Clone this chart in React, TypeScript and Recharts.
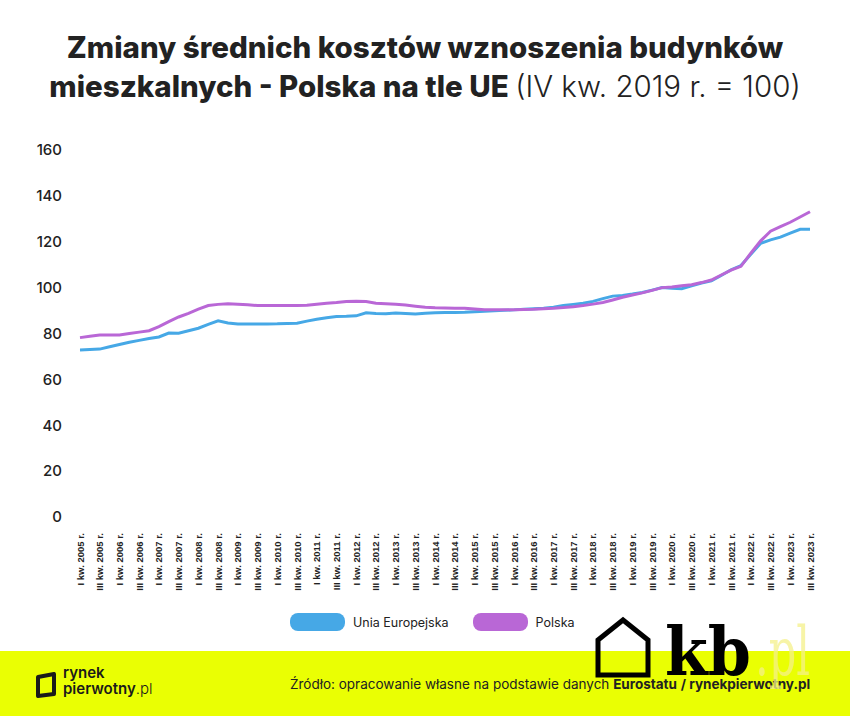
import { LineChart, Line, XAxis, YAxis } from "recharts";

const YEARS = [2005, 2006, 2007, 2008, 2009, 2010, 2011, 2012, 2013, 2014, 2015, 2016, 2017, 2018, 2019, 2020, 2021, 2022, 2023];
const QUARTERS = ["I", "II", "III", "IV"];

// index values, IV kw. 2019 r. = 100, from I kw. 2005 r. to III kw. 2023 r.
const EU = [
  72.8, 73.0, 73.2, 74.2, 75.2, 76.2, 77.0, 77.8, 78.5, 80.2,
  80.1, 81.2, 82.3, 84.0, 85.5, 84.6, 84.1, 84.1, 84.1, 84.1,
  84.2, 84.4, 84.5, 85.4, 86.2, 86.9, 87.4, 87.5, 87.7, 89.0,
  88.7, 88.6, 88.9, 88.7, 88.5, 88.8, 89.0, 89.2, 89.2, 89.3,
  89.5, 89.7, 89.9, 90.1, 90.3, 90.6, 90.8, 91.0, 91.5, 92.2,
  92.7, 93.2, 94.0, 95.2, 96.3, 96.6, 97.2, 97.9, 98.9, 100.0,
  99.7, 99.5, 100.8, 102.0, 103.0, 105.3, 107.8, 109.6, 114.5, 119.3,
  120.8, 122.0, 123.8, 125.4, 125.4,
];
const PL = [
  78.2, 78.8, 79.3, 79.4, 79.4, 80.0, 80.6, 81.2, 83.0, 85.2,
  87.2, 88.8, 90.6, 92.2, 92.7, 93.0, 92.8, 92.5, 92.2, 92.2,
  92.2, 92.2, 92.2, 92.3, 92.8, 93.2, 93.5, 94.0, 94.1, 93.9,
  93.2, 93.0, 92.7, 92.4, 91.9, 91.4, 91.2, 91.1, 91.0, 91.0,
  90.7, 90.4, 90.3, 90.3, 90.4, 90.5, 90.6, 90.8, 91.0, 91.3,
  91.7, 92.2, 92.8, 93.5, 94.6, 95.8, 96.8, 97.7, 98.8, 100.0,
  100.3, 100.8, 101.3, 102.2, 103.3, 105.5, 107.6, 109.3, 115.0, 120.4,
  124.6, 126.6, 128.5, 130.8, 133.1,
];
const Y_TICKS = [0, 20, 40, 60, 80, 100, 120, 140, 160];

const SERIES = [
  { key: "eu", name: "Unia Europejska", color: "#46a8e6" },
  { key: "pl", name: "Polska", color: "#b967d6" },
];

const LABELS = YEARS.flatMap((y) => QUARTERS.map((q) => `${q} kw. ${y} r.`)).slice(0, EU.length);
const data = LABELS.map((label, i) => ({ label, eu: EU[i], pl: PL[i] }));

const SANS = "Inter, 'Noto Sans', sans-serif";

function QuarterTick({ x, y, payload }: any) {
  return (
    <g transform={`translate(${x},${y})`}>
      <text
        transform="rotate(-90)"
        x={-10}
        dy={3.5}
        textAnchor="end"
        fontSize={9.5}
        fontWeight={700}
        fontFamily="'Liberation Sans', Arial, sans-serif"
        fill="#222"
      >
        {payload.value}
      </text>
    </g>
  );
}

export default function App() {
  return (
    <div style={{ position: "absolute", left: 0, top: 0, width: 850, height: 716, background: "#fff", overflow: "hidden", fontFamily: SANS }}>
      {/* Title */}
      <div style={{ position: "absolute", top: 28, left: 0, width: 850, textAlign: "center", fontSize: 29.5, lineHeight: "39px", color: "#222", fontWeight: 800 }}>
        Zmiany średnich kosztów wznoszenia budynków
        <br />
        mieszkalnych - Polska na tle UE <span style={{ fontWeight: 300 }}>(IV kw. 2019 r. = 100)</span>
      </div>

      <div style={{ position: "absolute", top: 130, left: 0 }}>
        <LineChart width={850} height={470} data={data} margin={{ top: 20, right: 40, bottom: 8, left: 20 }}>
          <XAxis
            dataKey="label"
            interval={1}
            axisLine={false}
            tickLine={false}
            tickMargin={0}
            height={75}
            tick={<QuarterTick />}
          />
          <YAxis
            domain={[0, 160]}
            ticks={Y_TICKS}
            axisLine={false}
            tickLine={false}
            width={60}
            tickMargin={12}
            tick={{ fontSize: 15, fill: "#222", fontWeight: 500, fontFamily: SANS }}
          />
          {SERIES.map((s) => (
            <Line
              key={s.key}
              dataKey={s.key}
              name={s.name}
              stroke={s.color}
              strokeWidth={3}
              dot={false}
              type="linear"
              isAnimationActive={false}
            />
          ))}
        </LineChart>
      </div>

      {/* Legend */}
      <div style={{ position: "absolute", top: 613, left: 290, display: "flex", alignItems: "center", fontSize: 12.5, color: "#222" }}>
        {SERIES.map((s) => (
          <div key={s.key} style={{ display: "flex", alignItems: "center", marginRight: 24 }}>
            <div style={{ width: 55, height: 18, borderRadius: 8, background: s.color, marginRight: 8 }} />
            <span>{s.name}</span>
          </div>
        ))}
      </div>

      {/* Footer band */}
      <div style={{ position: "absolute", top: 651, left: 0, width: 850, height: 65, background: "#eaff03" }}>
        <svg style={{ position: "absolute", left: 35, top: 21 }} width={24} height={26}>
          <path d="M3 5 L19 2 L19 22 L3 24 Z" fill="none" stroke="#1a1a1a" strokeWidth={4} strokeLinejoin="round" />
        </svg>
        <div style={{ position: "absolute", left: 63, top: 14, fontSize: 15, lineHeight: "16px", color: "#1a1a1a", fontWeight: 600 }}>
          rynek
          <br />
          pierwotny<span style={{ fontWeight: 300 }}>.pl</span>
        </div>
        <div style={{ position: "absolute", left: 290, top: 25, fontSize: 13.5, color: "#222", whiteSpace: "nowrap" }}>
          Źródło: opracowanie własne na podstawie danych <b>Eurostatu</b> <b> / rynekpierwotny.pl</b>
        </div>
      </div>

      {/* kb.pl logo */}
      <svg style={{ position: "absolute", left: 0, top: 600 }} width={850} height={116}>
        <path d="M598 75 L598 40 L623 20 L648 40 L648 75 Z" fill="none" stroke="#000" strokeWidth={5} strokeLinejoin="miter" />
        <text x={665} y={75} fontSize={68} fontWeight={700} fontFamily="'DejaVu Serif', serif" fill="#000" textLength={86} lengthAdjust="spacingAndGlyphs">
          kb
        </text>
        <text x={755} y={75} fontSize={68} fontFamily="'DejaVu Serif', serif" fill="#f4f08a" fillOpacity={0.75} textLength={55} lengthAdjust="spacingAndGlyphs">
          .pl
        </text>
      </svg>
    </div>
  );
}
